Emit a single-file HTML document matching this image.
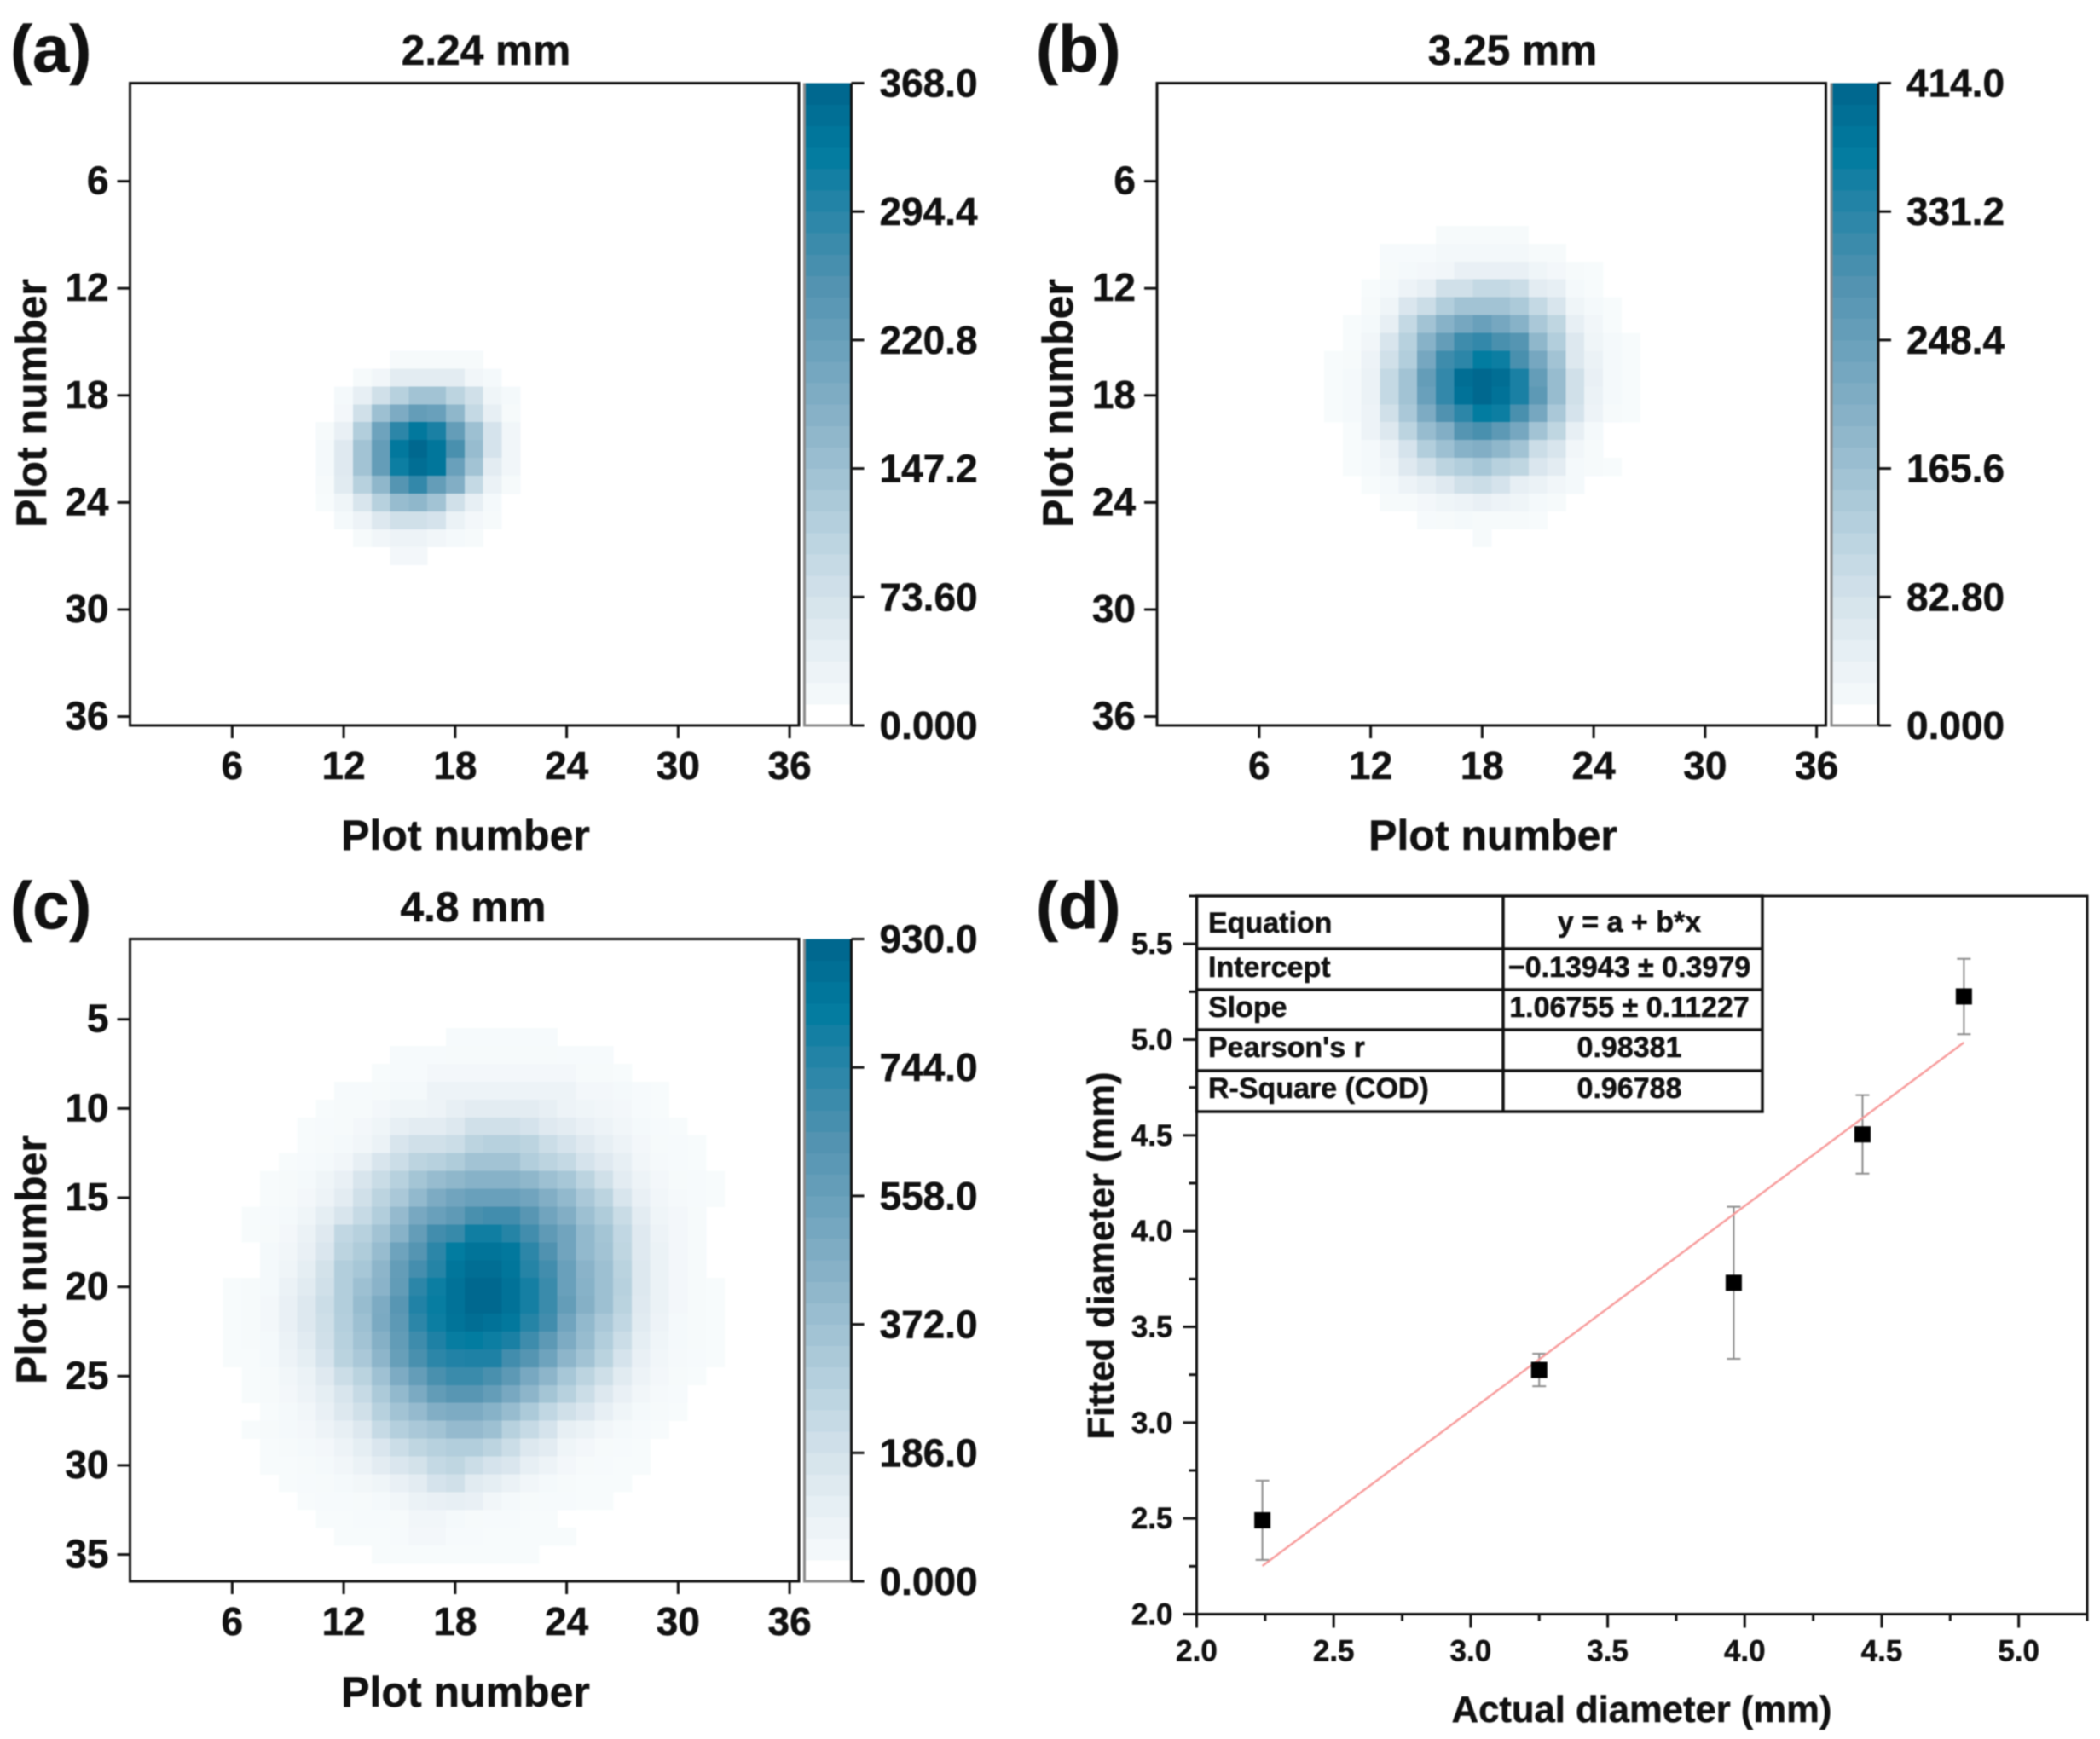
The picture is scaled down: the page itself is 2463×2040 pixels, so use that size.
<!DOCTYPE html>
<html lang="en">
<head>
<meta charset="utf-8">
<title>Beam spot heatmaps and fitted diameter</title>
<style>
html,body{margin:0;padding:0;background:#fff;}
svg{display:block;filter:blur(0.8px);}
text{font-family:"Liberation Sans",Arial,sans-serif;font-weight:700;fill:#111;stroke:#111;stroke-width:0.5px;}
</style>
</head>
<body>
<svg id="figure" xmlns="http://www.w3.org/2000/svg" width="2463" height="2040" viewBox="0 0 2463 2040">
<rect x="0" y="0" width="2463" height="2040" fill="#fff"/>
<text x="12" y="84" font-size="78">(a)</text>
<text x="1215" y="84" font-size="78">(b)</text>
<text x="12" y="1089" font-size="78">(c)</text>
<text x="1215" y="1089" font-size="78">(d)</text>
<text x="570" y="76" font-size="49.6" text-anchor="middle">2.24 mm</text>
<text x="1774" y="76" font-size="49.6" text-anchor="middle">3.25 mm</text>
<text x="555" y="1081" font-size="49.6" text-anchor="middle">4.8 mm</text>
<text x="546" y="997" font-size="50" text-anchor="middle">Plot number</text>
<text x="1751" y="997" font-size="50" text-anchor="middle">Plot number</text>
<text x="546" y="2002" font-size="50" text-anchor="middle">Plot number</text>
<text x="54" y="473" font-size="50" text-anchor="middle" transform="rotate(-90 54 473)">Plot number</text>
<text x="1258" y="473" font-size="50" text-anchor="middle" transform="rotate(-90 1258 473)">Plot number</text>
<text x="54" y="1478" font-size="50" text-anchor="middle" transform="rotate(-90 54 1478)">Plot number</text>
<text x="1925.5" y="2020" font-size="43.6" text-anchor="middle">Actual diameter (mm)</text>
<text x="1306" y="1473" font-size="43.6" text-anchor="middle" transform="rotate(-90 1306 1473)">Fitted diameter (mm)</text>
<g id="panel-a"></g>
<g id="panel-b"></g>
<g id="panel-c"></g>
<g id="panel-d"></g>
<g id="fit-table">
<rect x="1403.5" y="1051" width="663.5" height="253" fill="#fff" stroke="#111" stroke-width="3.5"/>
<line x1="1763" y1="1051" x2="1763" y2="1304" stroke="#111" stroke-width="3.5"/>
<line x1="1403.5" y1="1113" x2="2067" y2="1113" stroke="#111" stroke-width="3.5"/>
<line x1="1403.5" y1="1161" x2="2067" y2="1161" stroke="#111" stroke-width="3.5"/>
<line x1="1403.5" y1="1208" x2="2067" y2="1208" stroke="#111" stroke-width="3.5"/>
<line x1="1403.5" y1="1256" x2="2067" y2="1256" stroke="#111" stroke-width="3.5"/>
<text x="1417" y="1094" font-size="34">Equation</text>
<text x="1911" y="1093" font-size="34" text-anchor="middle">y = a + b*x</text>
<text x="1417" y="1146" font-size="34">Intercept</text>
<text x="1911" y="1146" font-size="34" text-anchor="middle">−0.13943 ± 0.3979</text>
<text x="1417" y="1193" font-size="34">Slope</text>
<text x="1911" y="1193" font-size="34" text-anchor="middle">1.06755 ± 0.11227</text>
<text x="1417" y="1240" font-size="34">Pearson's r</text>
<text x="1911" y="1240" font-size="34" text-anchor="middle">0.98381</text>
<text x="1417" y="1288" font-size="34">R-Square (COD)</text>
<text x="1911" y="1288" font-size="34" text-anchor="middle">0.96788</text>
</g>
</svg>
<script>
// ---- heatmap data: values are percent of each panel's colour-scale maximum ----
const heatARows = [16,17,18,19,20,21,22,23,24,25,26,27];
const heatAFirstCol = [15,13,12,12,11,11,11,11,11,12,13,15];
const heatAValues = [
[2,2,2,2,2],
[2,5,12,12,12,12,5,3],
[3,10,20,30,38,38,28,20,6,3],
[4,20,40,52,62,60,45,25,10,2],
[2,9,32,58,80,92,85,62,40,18,5],
[3,14,38,62,92,100,93,72,42,18,5],
[3,14,38,62,88,97,93,60,38,12,5],
[2,13,30,45,68,78,62,50,25,8,2],
[1,6,17,30,42,45,38,20,10,3],
[3,7,15,20,20,18,8,4,2],
[2,5,7,7,5,3,2],
[4,4]
];
const heatBRows = [9,10,11,12,13,14,15,16,17,18,19,20,21,22,23,24,25,26];
const heatBFirstCol = [16,13,13,12,12,11,11,10,10,10,10,11,11,11,12,13,15,18];
const heatBValues = [
[2,2,2,2,2],
[1.5,1.5,1.5,3.5,3.5,3.5,3.5,3.5,2,2],
[2,3,4,5,9,9,9,9,6,4,2,1],
[1,3,7,10,20,20,25,25,22,12,10,3,1],
[2,6,16,22,32,38,38,38,34,25,17,6,3,1],
[1,3,10,25,38,48,55,60,55,48,35,27,10,5,1],
[1,5,17,30,48,62,75,78,72,68,45,32,15,6,3,1],
[1,2,7,20,32,55,75,80,90,88,72,55,38,15,8,3,1],
[1,3,8,25,38,62,78,97,100,97,85,62,42,20,9,3,1],
[1,3,8,25,38,60,78,95,100,95,85,65,42,20,8,3,1],
[1,3,7,20,35,52,70,80,90,88,72,55,35,18,7,2,1],
[1,7,15,28,42,50,68,72,65,55,38,27,10,3],
[1,3,8,18,32,40,48,50,45,38,22,17,5,2],
[1,3,6,14,20,28,32,36,30,27,16,12,3,2,1],
[1,3,7,10,14,20,22,18,10,8,5,3],
[2,2,4,6,7,9,7,6,3,2],
[1.5,2,3,2,2,2,1],
[2]
];
const heatCRows = [6,7,8,9,10,11,12,13,14,15,16,17,18,19,20,21,22,23,24,25,26,27,28,29,30,31,32,33,34,35];
const heatCFirstCol = [18,15,14,12,11,10,10,9,8,8,7,7,8,8,6,6,6,6,6,7,7,8,7,8,8,9,10,11,12,14];
const heatCValues = [
[1.5,1.5,1.5,1.5,1.5,1.5],
[1.5,1.5,1.5,2,2,2,2,2,2,1.5,1.5,1.5],
[1,1.5,1.5,4,4,4,4,4,4,4,4,2,2,1],
[1.5,1.5,2,3,3,7,7,7,7,7,7,7,7,4,4,3,1.5,1],
[1,2,2,4,6,6,7,10,12,12,12,12,10,7,6,5,4,1.5,1],
[1,1.5,2,4,6,10,12,12,15,20,20,20,18,14,12,9,7,5,3,1.5,1],
[1,2,3,5,8,17,20,20,22,28,30,30,28,22,18,14,10,7,4,2,1.5,1],
[1,1.5,3,5,10,17,22,28,30,33,38,38,38,32,28,25,18,14,10,5,2.5,1.5,1],
[1,2,3,6,9,17,23,30,37,42,45,48,48,48,45,40,36,28,20,12,7,4,2,1.5,1],
[1,2,4,7,12,20,28,35,44,52,57,60,60,60,57,50,44,35,28,17,9,5,2.5,1.5,1],
[1,1.5,3,6,11,17,24,32,43,54,60,64,72,74,74,67,57,50,40,33,23,12,6,4,2],
[1,2,4,8,14,26,30,38,48,62,74,77,87,87,82,74,64,57,44,37,26,14,7,4,2],
[3,5,9,16,28,33,42,58,68,80,90,94,94,92,80,70,57,44,38,27,14,8,4,2],
[3,6,11,19,32,36,46,62,73,82,93,97,97,93,82,74,60,47,40,29,15,8,4,2],
[1,2,3,8,13,20,32,40,47,63,80,88,95,100,100,95,86,76,60,48,40,30,15,8,4,2,1],
[1,2,4,9,15,22,32,42,52,67,83,89,95,100,100,95,86,76,62,49,40,29,14,8,4,2,1],
[1,2,4,9,15,21,31,40,53,65,80,88,94,97,95,92,82,74,57,44,35,26,13,7,3,2,1],
[1,2,3,8,13,20,30,38,49,63,75,84,89,90,88,85,75,65,52,42,32,22,11,6,3,2,1],
[1,1,3,7,11,18,29,35,46,61,72,80,83,84,84,74,68,58,46,38,29,18,9,5,2.5,1.5,1],
[1,2,5,8,14,22,29,39,52,62,72,76,76,72,65,54,46,36,28,21,13,7,4,2,1],
[1,2,4,7,11,17,24,34,44,53,63,67,67,62,54,46,37,30,22,15,9,5,2.5,1.5],
[1,3,5,9,15,20,30,38,43,50,52,52,48,42,34,26,20,16,10,6,3,2,1],
[1,2,3,4,7,10,15,24,31,35,38,43,43,40,30,24,18,10,8,5,3,1.5,1],
[1,2,3,4,7,11,16,22,27,30,32,32,28,22,15,12,6,4,2,1.5,1],
[1,1,2,3,5,8,12,16,19,25,27,22,18,16,10,7,4,2,1.5,1,1],
[1,1.5,2,3,4.5,6,9,12,18,20,13,11,8,5,3,2,1,1,1],
[1,1.5,1.5,2,3,5,8,9,10,9,5,3,2,1.5,1.5,1,1],
[1,1,1.5,1.5,2,5,5,3,2,1.5,1.5,1,1],
[1,1,1,1.5,4,4,1.5,1.5,1,1,1,1,1],
[1,1,1,1,1,1,1,1,1]
];
// ---- axis ticks ----
const heatXTicks = [6,12,18,24,30,36];
const heatYTicksAB = [6,12,18,24,30,36];
const heatYTicksC = [5,10,15,20,25,30,35];
const colorbarTicksA = [0,73.6,147.2,220.8,294.4,368];
const colorbarLabelsA = ["0.000","73.60","147.2","220.8","294.4","368.0"];
const colorbarTicksB = [0,82.8,165.6,248.4,331.2,414];
const colorbarLabelsB = ["0.000","82.80","165.6","248.4","331.2","414.0"];
const colorbarTicksC = [0,186,372,558,744,930];
const colorbarLabelsC = ["0.000","186.0","372.0","558.0","744.0","930.0"];
// ---- colour ramp ----
const rampLevels = [0,1,5,15,30,50,70,85,90,100];
const rampReds = [255,247,241,221,183,130,80,26,2,0];
const rampGreens = [255,251,246,232,209,174,146,128,124,104];
const rampBlues = [255,252,249,239,222,197,176,164,160,143];
// ---- panel d data ----
const actualDiameter = [2.24,3.25,3.96,4.43,4.80];
const fittedDiameter = [2.49,3.275,3.73,4.505,5.225];
const fittedError = [0.207,0.085,0.397,0.205,0.197];
const fitIntercept = [-0.13943];
const fitSlope = [1.06755];
const scatterXMajor = [2.0,2.5,3.0,3.5,4.0,4.5,5.0];
const scatterXMinor = [2.25,2.75,3.25,3.75,4.25,4.75,5.25];
const scatterYMajor = [2.0,2.5,3.0,3.5,4.0,4.5,5.0,5.5];
const scatterYMinor = [2.25,2.75,3.25,3.75,4.25,4.75,5.25,5.75];

const NS = 'http://www.w3.org/2000/svg';
function make(parent, tag, attrs, content) {
  const node = document.createElementNS(NS, tag);
  for (const key in attrs) node.setAttribute(key, attrs[key]);
  if (content !== undefined) node.textContent = content;
  parent.appendChild(node);
  return node;
}
function rampColor(level) {
  const v = Math.max(0, Math.min(100, level));
  let i = 0;
  while (i < rampLevels.length - 2 && v > rampLevels[i + 1]) i++;
  const t = (v - rampLevels[i]) / (rampLevels[i + 1] - rampLevels[i]);
  const mix = function (arr) { return Math.round(arr[i] + (arr[i + 1] - arr[i]) * t); };
  return 'rgb(' + mix(rampReds) + ',' + mix(rampGreens) + ',' + mix(rampBlues) + ')';
}
function drawHeatPanel(id, left, top, rows, firstCols, values, yTicks, cbTicks, cbLabels) {
  const g = document.getElementById(id);
  const width = 784.5, height = 753.5;
  // data axes span 0.5 .. 36.5, cell n occupies n-0.5 .. n+0.5
  const sx = function (v) { return left + (v - 0.5) / 36 * width; };
  const sy = function (v) { return top + (v - 0.5) / 36 * height; };
  values.forEach(function (rowValues, ri) {
    rowValues.forEach(function (v, ci) {
      const col = firstCols[ri] + ci;
      const row = rows[ri];
      const cell = make(g, 'rect', {
        x: sx(col - 0.5), y: sy(row - 0.5),
        width: sx(col + 0.5) - sx(col - 0.5) + 0.4, height: sy(row + 0.5) - sy(row - 0.5) + 0.4,
        fill: rampColor(v), 'shape-rendering': 'crispEdges'
      });
      
      
    });
  });
  const frame = make(g, 'rect', { x: left, y: top, width: width, height: height, fill: 'none', stroke: '#111', 'stroke-width': 3 });
  
  
  heatXTicks.forEach(function (t) {
    const mark = make(g, 'line', { x1: sx(t), y1: top + height, x2: sx(t), y2: top + height + 15, stroke: '#111', 'stroke-width': 3 });
    
    
    const label = make(g, 'text', { x: sx(t), y: top + height + 63, 'font-size': 46, 'text-anchor': 'middle' }, String(t));
    
    
  });
  yTicks.forEach(function (t) {
    const yy = sy(t);
    const mark = make(g, 'line', { x1: left - 15, y1: yy, x2: left, y2: yy, stroke: '#111', 'stroke-width': 3 });
    
    
    const label = make(g, 'text', { x: left - 25, y: yy + 15, 'font-size': 46, 'text-anchor': 'end' }, String(t));
    
    
  });
  // colour bar
  const cbLeft = left + 791, cbWidth = 55;
  const cbMax = cbTicks[cbTicks.length - 1];
  const cby = function (v) { return top + height - v / cbMax * height; };
  const bands = 30;
  for (let b = 0; b < bands; b++) {
    const lo = b / bands * cbMax, hi = (b + 1) / bands * cbMax;
    const band = make(g, 'rect', {
      x: cbLeft, y: cby(hi), width: cbWidth, height: cby(lo) - cby(hi) + 0.4,
      fill: rampColor(b / (bands - 1) * 100), 'shape-rendering': 'crispEdges'
    });
    
    
  }
  const cbLeftEdge = make(g, 'path', { d: 'M' + cbLeft + ' ' + top + 'V' + (top + height) + 'H' + (cbLeft + cbWidth), fill: 'none', stroke: '#8a8a8a', 'stroke-width': 3 });
  
  
  const cbAxis = make(g, 'line', { x1: cbLeft + cbWidth, y1: top, x2: cbLeft + cbWidth, y2: top + height, stroke: '#111', 'stroke-width': 3 });
  
  
  cbTicks.forEach(function (t, i) {
    const mark = make(g, 'line', { x1: cbLeft + cbWidth, y1: cby(t), x2: cbLeft + cbWidth + 15, y2: cby(t), stroke: '#111', 'stroke-width': 3 });
    
    
    const label = make(g, 'text', { x: cbLeft + cbWidth + 33, y: cby(t) + 16, 'font-size': 46 }, cbLabels[i]);
    
    
  });
}
drawHeatPanel('panel-a', 152.5, 97.5, heatARows, heatAFirstCol, heatAValues, heatYTicksAB, colorbarTicksA, colorbarLabelsA);
drawHeatPanel('panel-b', 1357, 97.5, heatBRows, heatBFirstCol, heatBValues, heatYTicksAB, colorbarTicksB, colorbarLabelsB);
drawHeatPanel('panel-c', 152.5, 1101.5, heatCRows, heatCFirstCol, heatCValues, heatYTicksC, colorbarTicksC, colorbarLabelsC);

(function drawScatter() {
  const g = document.getElementById('panel-d');
  const xLeft = 1403.5, xRight = 2448, yBottom = 1893.5, yTop = 1051;
  const sx = function (v) { return xLeft + (v - 2) / 3.25 * (xRight - xLeft); };
  const sy = function (v) { return yBottom - (v - 2) / 3.75 * (yBottom - yTop); };
  const frame = make(g, 'rect', { x: xLeft, y: yTop, width: xRight - xLeft, height: yBottom - yTop, fill: 'none', stroke: '#111', 'stroke-width': 3 });
  
  
  scatterXMajor.forEach(function (t) {
    const mark = make(g, 'line', { x1: sx(t), y1: yBottom, x2: sx(t), y2: yBottom + 16, stroke: '#111', 'stroke-width': 3 });
    
    
    const label = make(g, 'text', { x: sx(t), y: yBottom + 55, 'font-size': 35, 'text-anchor': 'middle' }, t.toFixed(1));
    
    
  });
  scatterXMinor.forEach(function (t) {
    const mark = make(g, 'line', { x1: sx(t), y1: yBottom, x2: sx(t), y2: yBottom + 8, stroke: '#111', 'stroke-width': 3 });
    
    
  });
  scatterYMajor.forEach(function (t) {
    const mark = make(g, 'line', { x1: xLeft - 16, y1: sy(t), x2: xLeft, y2: sy(t), stroke: '#111', 'stroke-width': 3 });
    
    
    const label = make(g, 'text', { x: xLeft - 28, y: sy(t) + 12, 'font-size': 35, 'text-anchor': 'end' }, t.toFixed(1));
    
    
  });
  scatterYMinor.forEach(function (t) {
    const mark = make(g, 'line', { x1: xLeft - 9, y1: sy(t), x2: xLeft, y2: sy(t), stroke: '#111', 'stroke-width': 3 });
    
    
  });
  actualDiameter.forEach(function (x, i) {
    const hi = fittedDiameter[i] + fittedError[i], lo = fittedDiameter[i] - fittedError[i];
    const bar = make(g, 'path', {
      d: 'M' + sx(x) + ' ' + sy(lo) + 'V' + sy(hi) + 'M' + (sx(x) - 8) + ' ' + sy(hi) + 'h16M' + (sx(x) - 8) + ' ' + sy(lo) + 'h16',
      fill: 'none', stroke: '#8c8c8c', 'stroke-width': 2
    });
    
    
  });
  const xFirst = actualDiameter[0], xLast = actualDiameter[actualDiameter.length - 1];
  const fit = make(g, 'line', {
    x1: sx(xFirst), y1: sy(fitIntercept[0] + fitSlope[0] * xFirst),
    x2: sx(xLast), y2: sy(fitIntercept[0] + fitSlope[0] * xLast),
    stroke: '#f79a9a', 'stroke-width': 2.4
  });
  
  
  actualDiameter.forEach(function (x, i) {
    const point = make(g, 'rect', { x: sx(x) - 9.5, y: sy(fittedDiameter[i]) - 9.5, width: 19, height: 19, fill: '#000' });
    
    
  });
})();
</script>
</body>
</html>
